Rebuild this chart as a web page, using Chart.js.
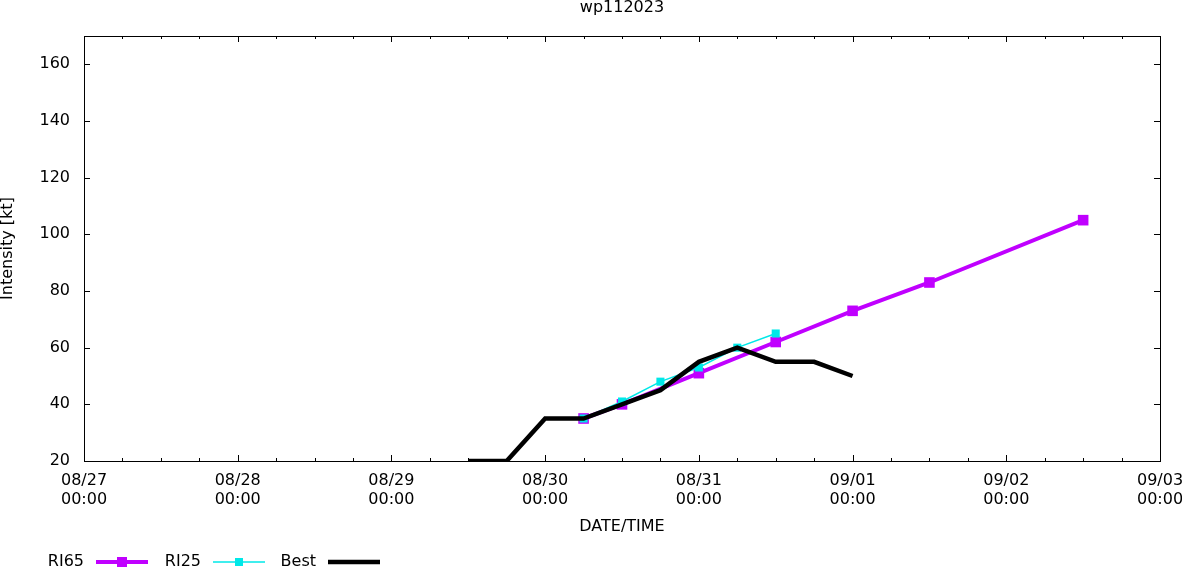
<!DOCTYPE html>
<html>
<head>
<meta charset="utf-8">
<script src="https://cdn.jsdelivr.net/npm/chart.js@4.4.1/dist/chart.umd.min.js"></script>
<style>
  html, body { margin: 0; padding: 0; background: #fff; }
  #wrap { width: 1182px; height: 567px; position: relative; }
</style>
</head>
<body>
<div id="wrap"><canvas id="chart"></canvas></div>
<script>
// data (times are MM/DD HH:MM, intensity in kt)
var ri65Times = ["08/30 06:00", "08/30 12:00", "08/31 00:00", "08/31 12:00", "09/01 00:00", "09/01 12:00", "09/02 12:00"];
var ri65Values = [35, 40, 51, 62, 73, 83, 105];

var ri25Times = ["08/30 06:00", "08/30 12:00", "08/30 18:00", "08/31 00:00", "08/31 06:00", "08/31 12:00"];
var ri25Values = [35, 41, 48, 53, 60, 65];

var bestTimes = ["08/29 12:00", "08/29 18:00", "08/30 00:00", "08/30 06:00", "08/30 12:00", "08/30 18:00",
                 "08/31 00:00", "08/31 06:00", "08/31 12:00", "08/31 18:00", "09/01 00:00"];
var bestValues = [20, 20, 35, 35, 40, 45, 55, 60, 55, 55, 50];

var dayLabels = ["08/27", "08/28", "08/29", "08/30", "08/31", "09/01", "09/02", "09/03"];
var yTicks = [20, 40, 60, 80, 100, 120, 140, 160];

var FONT = "'DejaVu Sans', sans-serif";
var C_RI65 = '#c000ff';
var C_RI25 = '#00e8e8';
var C_BEST = '#000000';

// hours since 08/27 00:00
function toHours(s) {
    var m = parseInt(s.substr(0, 2), 10);
    var d = parseInt(s.substr(3, 2), 10);
    var h = parseInt(s.substr(6, 2), 10);
    var days = (m == 8) ? d - 27 : d + 31 - 27;
    return days * 24 + h;
}
function pts(times, vals) {
    var out = [];
    for (var i = 0; i < times.length; i++) {
        out.push({ x: toHours(times[i]), y: vals[i] });
    }
    return out;
}

var framePlugin = {
    id: 'frame',
    afterDraw: function (chart) {
        var ctx = chart.ctx;
        var a = chart.chartArea;
        var xs = chart.scales.x, ys = chart.scales.y;
        ctx.save();
        ctx.strokeStyle = '#000';
        ctx.lineWidth = 1;
        ctx.strokeRect(a.left + 0.5, a.top + 0.5, a.right - a.left, a.bottom - a.top);
        ctx.beginPath();
        // x ticks every 6h, major every 24h, both top and bottom
        for (var h = 0; h <= 168; h += 6) {
            var px = Math.round(xs.getPixelForValue(h)) + 0.5;
            var len = (h % 24 == 0) ? 6 : 3;
            ctx.moveTo(px, a.bottom); ctx.lineTo(px, a.bottom - len);
            ctx.moveTo(px, a.top); ctx.lineTo(px, a.top + len);
        }
        // y ticks left and right
        for (var i = 0; i < yTicks.length; i++) {
            var py = Math.round(ys.getPixelForValue(yTicks[i])) + 0.5;
            ctx.moveTo(a.left, py); ctx.lineTo(a.left + 6, py);
            ctx.moveTo(a.right, py); ctx.lineTo(a.right - 6, py);
        }
        ctx.stroke();

        // titles
        ctx.fillStyle = '#000';
        ctx.font = '16px ' + FONT;
        ctx.textAlign = 'center';
        ctx.textBaseline = 'middle';
        ctx.fillText('wp112023', (a.left + a.right) / 2, 8);
        ctx.fillText('DATE/TIME', (a.left + a.right) / 2, 527);
        ctx.save();
        ctx.translate(8, (a.top + a.bottom) / 2);
        ctx.rotate(-Math.PI / 2);
        ctx.fillText('Intensity [kt]', 0, 0);
        ctx.restore();

        // legend, gnuplot style: text then sample
        var items = [
            { t: 'RI65', c: C_RI65, w: 4, x: 84, box: 10 },
            { t: 'RI25', c: C_RI25, w: 1.5, x: 201, box: 8 },
            { t: 'Best', c: C_BEST, w: 4.5, x: 316, box: 0 }
        ];
        var ly = 562;
        ctx.textAlign = 'right';
        for (var k = 0; k < items.length; k++) {
            var it = items[k];
            ctx.fillStyle = '#000';
            ctx.fillText(it.t, it.x, ly);
            var x0 = it.x + 12, x1 = it.x + 64;
            ctx.strokeStyle = it.c;
            ctx.lineWidth = it.w;
            ctx.beginPath();
            ctx.moveTo(x0, ly); ctx.lineTo(x1, ly);
            ctx.stroke();
            if (it.box) {
                ctx.fillStyle = it.c;
                var cx = (x0 + x1) / 2;
                ctx.fillRect(cx - it.box / 2, ly - it.box / 2, it.box, it.box);
            }
        }
        ctx.restore();
    }
};

new Chart(document.getElementById('chart').getContext('2d'), {
    type: 'line',
    data: {
        datasets: [{
            label: 'RI65',
            data: pts(ri65Times, ri65Values),
            borderColor: C_RI65,
            backgroundColor: C_RI65,
            borderWidth: 4,
            pointStyle: 'rect',
            pointRadius: 7.5,
            pointBorderWidth: 0,
            order: 3
        }, {
            label: 'RI25',
            data: pts(ri25Times, ri25Values),
            borderColor: C_RI25,
            backgroundColor: C_RI25,
            borderWidth: 1.5,
            pointStyle: 'rect',
            pointRadius: 5.7,
            pointBorderWidth: 0,
            order: 2
        }, {
            label: 'Best',
            data: pts(bestTimes, bestValues),
            borderColor: C_BEST,
            backgroundColor: C_BEST,
            borderWidth: 4.5,
            pointRadius: 0,
            order: 1
        }]
    },
    options: {
        responsive: true,
        maintainAspectRatio: false,
        animation: false,
        layout: { padding: { left: 0, right: 22, top: 36, bottom: 0 } },
        plugins: {
            legend: { display: false },
            tooltip: { enabled: false }
        },
        elements: { line: { tension: 0 } },
        scales: {
            x: {
                type: 'linear',
                min: 0,
                max: 168,
                grid: { display: false, drawTicks: false },
                border: { display: false },
                ticks: {
                    stepSize: 24,
                    autoSkip: false,
                    maxRotation: 0,
                    padding: 10,
                    color: '#000',
                    font: { family: FONT, size: 16, lineHeight: 1.2 },
                    callback: function (v) {
                        return [dayLabels[v / 24], '00:00'];
                    }
                },
                afterFit: function (s) {
                    s.height = 106;
                    s.paddingLeft = 0;
                    s.paddingRight = 0;
                }
            },
            y: {
                min: 20,
                max: 170,
                grid: { display: false, drawTicks: false },
                border: { display: false },
                afterBuildTicks: function (s) {
                    s.ticks = yTicks.map(function (v) { return { value: v }; });
                },
                ticks: {
                    padding: 14,
                    color: '#000',
                    font: { family: FONT, size: 16 }
                },
                afterFit: function (s) { s.width = 84; }
            }
        }
    },
    plugins: [framePlugin]
});
</script>
</body>
</html>
